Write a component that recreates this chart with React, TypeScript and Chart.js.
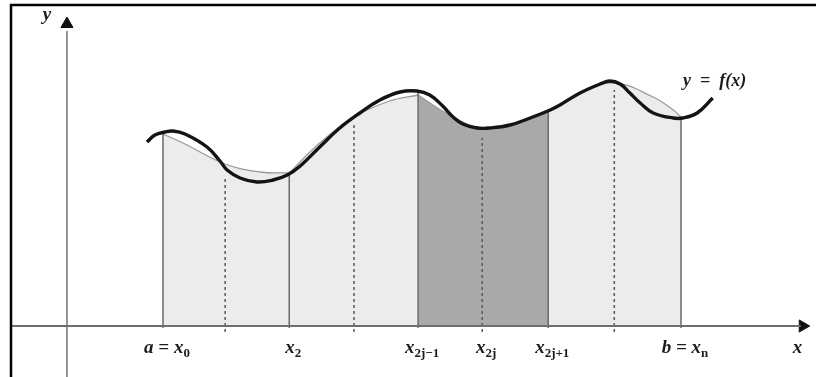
import { useEffect, useRef } from "react";
import { Chart, registerables } from "chart.js";
Chart.register(...registerables);

// Node positions x0..x8 (units of one sub-interval, x0 = 0)
const nodeX = [0, 0.96, 1.95, 2.95, 3.94, 4.93, 5.95, 6.97, 8];
// height of the vertical line at each node (solid at even, dashed at odd)
const nodeTop = [19.3, 14.9, 15.2, 20.3, 23.3, 18.8, 21.5, 23.6, 20.8];

// y = f(x) thick curve
const curveX = [-0.247, -0.124, 0.031, 0.154, 0.34, 0.68, 0.88, 0.99, 1.19, 1.45, 1.7, 1.92, 2.12, 2.42, 2.73, 3.04, 3.35, 3.66, 3.92, 4.12, 4.32, 4.48, 4.63, 4.85, 5.05, 5.36, 5.67, 5.98, 6.13, 6.44, 6.75, 6.9, 7.06, 7.21, 7.37, 7.57, 7.88, 8.03, 8.25, 8.49];
const curveY = [18.4, 19.1, 19.4, 19.5, 19.2, 17.9, 16.5, 15.6, 14.8, 14.4, 14.6, 15.1, 16.0, 17.9, 19.8, 21.3, 22.6, 23.4, 23.5, 23.1, 22.0, 20.9, 20.2, 19.8, 19.8, 20.1, 20.8, 21.6, 22.1, 23.3, 24.2, 24.5, 24.2, 23.3, 22.3, 21.3, 20.8, 20.8, 21.3, 22.8];

// approximating parabolas over each pair of sub-intervals
const parabola1X = [0, 0.31, 0.96, 1.5, 1.95];
const parabola1Y = [19.2, 18.3, 16.2, 15.4, 15.3];
const parabola2X = [1.95, 2.42, 2.95, 3.5, 3.94];
const parabola2Y = [15.3, 18.3, 20.9, 22.5, 23.1];
const parabola3X = [3.94, 4.4, 4.93, 5.45, 5.95];
const parabola3Y = [23.1, 21.2, 19.8, 20.3, 21.4];
const parabola4X = [5.95, 6.45, 6.97, 7.57, 7.88, 8];
const parabola4Y = [21.4, 23.3, 24.3, 22.9, 21.6, 20.9];

// tick labels under the x axis
const tickNode = [0, 2, 4, 5, 6, 8];
const tickMain = ["a = x", "x", "x", "x", "x", "b = x"];
const tickSub = ["0", "2", "2j\u22121", "2j", "2j+1", "n"];

const xAxisLabel = "x";
const yAxisLabel = "y";
const curveLabel = "y  =  f(x)";

const X_MIN = -2.517, X_MAX = 10.085, Y_MIN = -5.1, Y_MAX = 32.6;
const Y_AXIS_X = -1.483;

const pts = (xs: number[], ys: number[]) => xs.map((x, i) => ({ x, y: ys[i] }));

export default function App() {
  const ref = useRef<HTMLCanvasElement | null>(null);
  useEffect(() => {
    document.body.style.margin = "0";
    const canvas = ref.current!;
    const datasets: any[] = [];
    datasets.push({
      data: pts(curveX, curveY),
      borderColor: "#141414",
      borderWidth: 3.4,
      tension: 0.4,
      pointRadius: 0,
      fill: false,
      order: 0,
    });
    const pars = [
      [parabola1X, parabola1Y, "#ececec"],
      [parabola2X, parabola2Y, "#ececec"],
      [parabola3X, parabola3Y, "#a9a9a9"],
      [parabola4X, parabola4Y, "#ececec"],
    ] as const;
    pars.forEach(([xs, ys, c]) => {
      datasets.push({
        data: pts(xs as number[], ys as number[]),
        borderColor: "#9a9a9a",
        borderWidth: 1.3,
        backgroundColor: c,
        tension: 0.4,
        pointRadius: 0,
        fill: "origin",
        order: 4,
      });
    });
    nodeX.forEach((x, i) => {
      const even = i % 2 === 0;
      datasets.push({
        data: [
          { x, y: even ? -0.2 : -0.6 },
          { x, y: nodeTop[i] },
        ],
        borderColor: even ? "#6a6a6a" : "#5a5a5a",
        borderWidth: 1.5,
        borderDash: even ? [] : [3, 3],
        pointRadius: 0,
        fill: false,
        order: 2,
      });
    });
    // axes
    datasets.push({
      data: [{ x: X_MIN + 0.17, y: 0 }, { x: 9.85, y: 0 }],
      borderColor: "#6e6e6e",
      borderWidth: 1.8,
      pointRadius: 0,
      fill: false,
      order: 1,
    });
    datasets.push({
      data: [{ x: Y_AXIS_X, y: Y_MIN }, { x: Y_AXIS_X, y: 29.5 }],
      borderColor: "#8a8a8a",
      borderWidth: 1.8,
      pointRadius: 0,
      fill: false,
      order: 1,
    });
    datasets.push({
      data: [{ x: 9.88, y: 0 }],
      showLine: false,
      pointStyle: "triangle",
      pointRotation: 90,
      pointRadius: 7,
      backgroundColor: "#111",
      borderColor: "#111",
      borderWidth: 1,
      order: 1,
    });
    datasets.push({
      data: [{ x: Y_AXIS_X, y: 30.2 }],
      showLine: false,
      pointStyle: "triangle",
      pointRotation: 0,
      pointRadius: 7,
      backgroundColor: "#111",
      borderColor: "#111",
      borderWidth: 1,
      order: 1,
    });

    const labelPlugin = {
      id: "labels",
      afterDatasetsDraw(chart: any) {
        const ctx = chart.ctx as CanvasRenderingContext2D;
        const xs = chart.scales.x, ys = chart.scales.y;
        ctx.save();
        // frame
        ctx.strokeStyle = "#000";
        ctx.lineWidth = 2.5;
        ctx.beginPath();
        ctx.moveTo(11, chart.height);
        ctx.lineTo(11, 5);
        ctx.lineTo(chart.width, 5);
        ctx.stroke();

        ctx.fillStyle = "#1c1c1c";
        ctx.textBaseline = "alphabetic";
        const mainFont = 'italic bold 19px "Liberation Serif"';
        const subFont = 'bold 13px "Liberation Serif"';
        const baseY = ys.getPixelForValue(0) + 27;
        tickNode.forEach((n, i) => {
          ctx.font = mainFont;
          const mw = ctx.measureText(tickMain[i]).width;
          ctx.font = subFont;
          const sw = ctx.measureText(tickSub[i]).width;
          const cx = xs.getPixelForValue(nodeX[n]) + 4;
          const left = cx - (mw + sw) / 2;
          ctx.font = mainFont;
          ctx.fillText(tickMain[i], left, baseY);
          ctx.font = subFont;
          ctx.fillText(tickSub[i], left + mw, baseY + 4);
        });
        ctx.font = mainFont;
        ctx.textAlign = "center";
        ctx.fillText(xAxisLabel, xs.getPixelForValue(9.8), baseY);
        ctx.fillText(yAxisLabel, xs.getPixelForValue(Y_AXIS_X) - 20, ys.getPixelForValue(30.6));
        ctx.textAlign = "left";
        ctx.font = 'italic bold 18px "Liberation Serif"';
        ctx.fillText(curveLabel, xs.getPixelForValue(8.03), ys.getPixelForValue(24.0));
        ctx.restore();
      },
    };

    const chart = new Chart(canvas, {
      type: "line",
      data: { datasets },
      options: {
        animation: false,
        responsive: false,
        maintainAspectRatio: false,
        layout: { padding: 0, autoPadding: false },
        plugins: { legend: { display: false }, tooltip: { enabled: false } },
        scales: {
          x: { type: "linear", min: X_MIN, max: X_MAX, display: false },
          y: { type: "linear", min: Y_MIN, max: Y_MAX, display: false },
        },
      },
      plugins: [labelPlugin],
    });
    return () => chart.destroy();
  }, []);
  return <canvas ref={ref} width={816} height={377} style={{ display: "block" }} />;
}
